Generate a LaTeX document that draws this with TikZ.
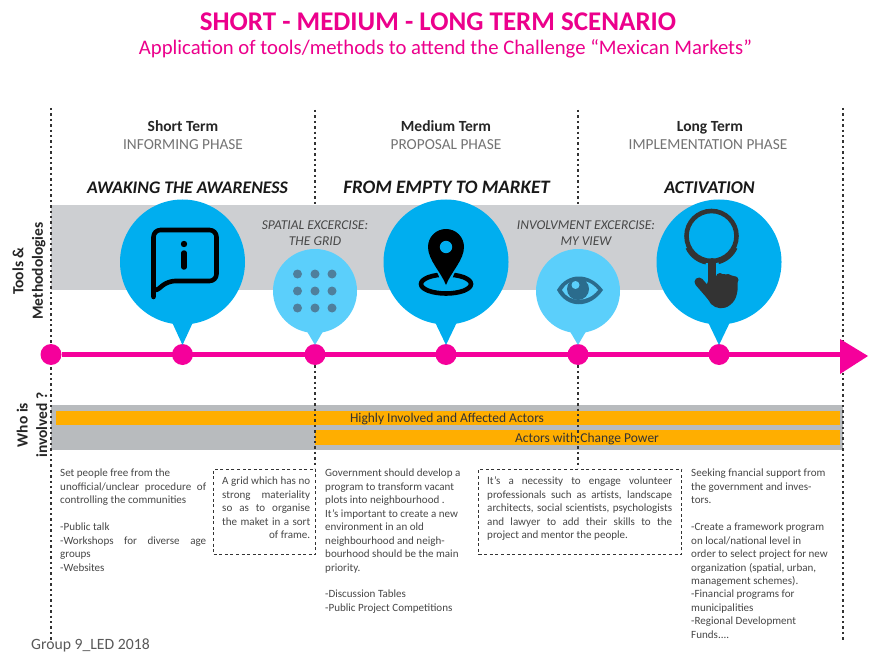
\documentclass[tikz,border=0pt]{standalone}
\usepackage{fontspec}
\setmainfont{Carlito}
\definecolor{mag}{HTML}{F5009B}
\definecolor{titlemag}{HTML}{EC008C}
\definecolor{bblue}{HTML}{00AEEF}
\definecolor{lblue}{HTML}{5BCFFB}
\definecolor{greyA}{HTML}{CDCFD2}
\definecolor{greyB}{HTML}{B8BBBE}
\definecolor{orng}{HTML}{FFAE00}
\definecolor{txt}{HTML}{474747}
\definecolor{icn}{HTML}{2B6C8D}
\definecolor{griddotc}{HTML}{4F7F9C}
\definecolor{hnd}{HTML}{333333}
\newcommand{\fs}[2]{\fontsize{#1}{#2}\selectfont}
\newcommand{\jl}[2]{\makebox[#1pt][s]{#2}}
\tikzset{
  x=1pt,y=-1pt,
  guide/.style={draw=black!80,line width=1.5pt,dash pattern=on 2.4pt off 3pt},
  dbox/.style={draw=black!80,line width=1.2pt,dash pattern=on 3pt off 2.6pt,inner sep=0pt,anchor=north west},
  body/.style={anchor=north west,align=left,inner sep=0pt,text=txt,font=\fs{11.05}{13.45}},
  phead/.style={inner sep=0pt,anchor=base,font=\bfseries\fs{15.5}{16},text=black!85},
  pphase/.style={inner sep=0pt,anchor=base,font=\fs{15.3}{16},text=black!55},
  pclaim/.style={inner sep=0pt,anchor=base,font=\bfseries\itshape\fs{18}{20},text=black!90},
  pex/.style={inner sep=0pt,align=center,font=\itshape\fs{13.5}{16},text=txt},
  side/.style={inner sep=0pt,rotate=90,align=center,font=\bfseries\fs{15.5}{19.5},text=black!85},
  barlabel/.style={inner sep=0pt,anchor=base,font=\fs{13.5}{14},text=black!80},
  bigb/.style={circle,fill=bblue,minimum size=125pt,inner sep=0pt},
  smallb/.style={circle,fill=lblue,minimum size=84pt,inner sep=0pt},
  stopdot/.style={circle,fill=mag,minimum size=21pt,inner sep=0pt},
  griddot/.style={circle,fill=griddotc,minimum size=9pt,inner sep=0pt},
}
\begin{document}
\begin{tikzpicture}
\useasboundingbox (0,0) rectangle (869,652);
\fill[white] (0,0) rectangle (869,652);
% titles
\node[inner sep=0pt,text=titlemag,font=\bfseries\fs{27}{30}] (title) at (438,22) {SHORT - MEDIUM - LONG TERM SCENARIO};
\node[inner sep=0pt,text=titlemag,font=\fs{20.7}{22}] (subtitle) at (445.5,49) {Application of tools/methods to attend the Challenge “Mexican Markets”};
% bands
\fill[greyA] (51,205) rectangle (700,290);
\fill[greyB] (51,405) rectangle (843,450);
\fill[orng] (56,411) rectangle (840,425);
\fill[orng] (315,430) rectangle (840,445);
% guides
\coordinate (g1a) at (51,108); \coordinate (g1b) at (51,640);
\coordinate (g2a) at (315,110); \coordinate (g2b) at (315,205);
\coordinate (g2c) at (315,360); \coordinate (g2d) at (315,468);
\coordinate (g3a) at (578,110); \coordinate (g3b) at (578,205);
\coordinate (g3c) at (578,360); \coordinate (g3d) at (578,468);
\coordinate (g4a) at (843,108); \coordinate (g4b) at (843,640);
\draw[guide] (g1a) -- (g1b);
\draw[guide] (g2a) -- (g2b);
\draw[guide] (g2c) -- (g2d);
\draw[guide] (g3a) -- (g3b);
\draw[guide] (g3c) -- (g3d);
\draw[guide] (g4a) -- (g4b);
% headings
\node[phead] (h1) at (183,132) {Short Term};
\node[pphase] (p1) at (183,149.5) {INFORMING PHASE};
\node[phead] (h2) at (446,132) {Medium Term};
\node[pphase] (p2) at (446,149.5) {PROPOSAL PHASE};
\node[phead] (h3) at (710,132) {Long Term};
\node[pphase] (p3) at (708,149.5) {IMPLEMENTATION PHASE};
\node[pclaim,font=\bfseries\itshape\fs{17.7}{20}] (c1) at (187.5,194) {AWAKING THE AWARENESS};
\node[pclaim,font=\bfseries\itshape\fs{19}{20}] (c2) at (446.5,194) {FROM EMPTY TO MARKET};
\node[pclaim] (c3) at (709.5,194) {ACTIVATION};
\node[pex] (e1) at (315,233) {SPATIAL EXCERCISE:\\THE GRID};
\node[pex] (e2) at (586,233) {INVOLVMENT EXCERCISE:\\MY VIEW};
% side labels
\node[side] (s1) at (29,271) {Tools \&\\Methodologies};
\node[side] (s2) at (32,425) {Who is\\involved ?};
% axis
\node[stopdot] (d1) at (51,354.5) {};
\node[stopdot] (d2) at (182.5,354.5) {};
\node[stopdot] (d3) at (315,354.5) {};
\node[stopdot] (d4) at (446,354.5) {};
\node[stopdot] (d5) at (578,354.5) {};
\node[stopdot] (d6) at (719,354.5) {};
\coordinate (tip) at (842,354.5);
\draw[mag,line width=5pt] (d1) -- (tip);
\fill[mag] (840,339) -- (868,356) -- (840,374) -- cycle;
% bubbles
\fill[bblue] (171,320) -- (182.5,345) -- (194,320) -- cycle;
\fill[lblue] (305,328) -- (315,345) -- (325,328) -- cycle;
\fill[bblue] (434,320) -- (446,345) -- (458,320) -- cycle;
\fill[lblue] (568,328) -- (578,345) -- (588,328) -- cycle;
\fill[bblue] (707,320) -- (719,345) -- (731,320) -- cycle;
\node[bigb] (b1) at (182.5,262) {};
\node[smallb] (b2) at (315,291) {};
\node[bigb] (b3) at (446,262) {};
\node[smallb] (b4) at (578,291) {};
\node[bigb] (b5) at (719,262) {};
% info icon
\draw[black,line width=4.6pt,line join=round,rounded corners=7pt]
  (153.5,290) -- (153.5,230) -- (216.5,230) -- (216.5,281) -- (168,281) -- (153.5,293) -- cycle;
\fill[black] (184,244) circle (3.2pt);
\draw[black,line width=5.5pt,line cap=round] (184,253) -- (184,267);
% grid icon
\foreach \px/\nm in {297.5/a,315/b,332/c}{
  \foreach \py/\mm in {274/x,291/y,308/z}{
    \node[griddot] (grid\nm\mm) at (\px,\py) {};
  }
}
% pin icon
\draw[black,line width=4.6pt] (446,284) ellipse (25pt and 9.5pt);
\fill[bblue] (446,291) -- (436,270) -- (456,270) -- cycle;
\fill[black] (446,285) .. controls (441,272) and (428,260) .. (428,247)
  .. controls (428,237) and (436,229) .. (446,229)
  .. controls (456,229) and (464,237) .. (464,247)
  .. controls (464,260) and (451,272) .. (446,285) -- cycle;
\fill[bblue] (446,247) circle (6.2pt);
% eye icon
\fill[icn] (557,290) .. controls (567,272) and (590,272) .. (603,290)
  .. controls (590,309) and (567,309) .. (557,290) -- cycle;
\fill[lblue] (562,290) .. controls (569,277) and (588,277) .. (598,290)
  .. controls (588,303) and (569,303) .. (562,290) -- cycle;
\fill[icn] (578,289) circle (11pt);
\fill[lblue] (575.5,285) circle (4pt);
% hand icon
\draw[hnd,line width=4.6pt] (711.5,236) circle (25pt);
\draw[hnd,line width=3pt] (687,248) arc[start angle=205,end angle=258,radius=27pt];
\draw[hnd,line width=3pt] (736,248) arc[start angle=-25,end angle=-75,radius=27pt];
\draw[hnd,line width=8pt,line cap=round] (712,262) -- (712,290);
\draw[hnd,line width=9pt,line cap=round] (699,282) -- (712,297);
\fill[hnd] (708,281) -- (716,276) -- (723,274) -- (730,275) -- (737,277)
  .. controls (739,290) and (737,300) .. (730,305)
  .. controls (724,310) and (716,309) .. (711,304) -- (704,293) -- cycle;
\fill[hnd] (720,277) circle (4pt) (728,278) circle (4pt) (735,280) circle (3.5pt);
% bar labels
\node[barlabel] (l1) at (447,422) {Highly Involved and Affected Actors};
\node[barlabel] (l2) at (587,442) {Actors with Change Power};
% body texts
\node[body] (t1) at (60,469) {Set people free from the\\
\jl{146}{unofficial/unclear procedure of}\\
controlling the communities\\[13.45pt]
-Public talk\\
\jl{146}{-Workshops for diverse age}\\
groups\\
-Websites};
\node[dbox,minimum width=102pt,minimum height=85.5pt] (box1) at (213,468.5) {};
\node[body] (t2) at (222,477) {\jl{88}{A grid which has no}\\
\jl{88}{strong materiality}\\
\jl{88}{so as to organise}\\
\jl{88}{the maket in a sort}\\
\makebox[88pt][r]{of frame.}};
\node[body] (t3) at (325,469) {Government should develop a\\
program to transform vacant\\
plots into neighbourhood .\\
It’s important to create a new\\
environment in an old\\
neighbourhood and neigh-\\
bourhood should be the main\\
priority.\\[13.45pt]
-Discussion Tables\\
-Public Project Competitions};
\node[dbox,minimum width=203pt,minimum height=85.5pt] (box2) at (478,468.5) {};
\node[body] (t4) at (487,477) {\jl{185}{It’s a necessity to engage volunteer}\\
\jl{185}{professionals such as artists, landscape}\\
\jl{185}{architects, social scientists, psychologists}\\
\jl{185}{and lawyer to add their skills to the}\\
project and mentor the people.};
\node[body] (t5) at (691,469) {Seeking fnancial support from\\
the government  and inves-\\
tors.\\[13.45pt]
-Create a framework program\\
on local/national level  in\\
order to select project for new\\
organization (spatial, urban,\\
management schemes).\\
-Financial programs for\\
municipalities\\
-Regional Development\\
Funds....};
\node[inner sep=0pt,anchor=west,text=black!65,font=\fs{15.7}{16}] (grp) at (31,645) {Group 9\_LED 2018};
\end{tikzpicture}
\end{document}
